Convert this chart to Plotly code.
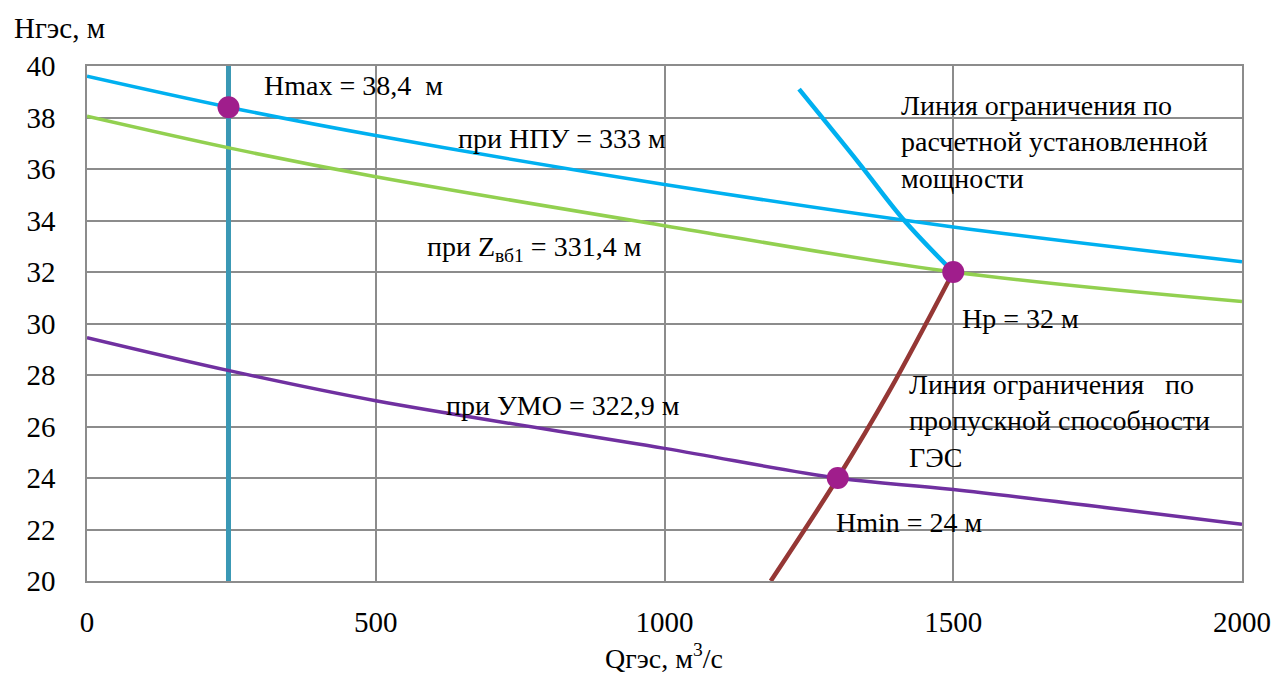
import plotly.graph_objects as go

# Напорные характеристики ГЭС: Q (м3/с) -> H (м)
q_npu = [0, 245, 500, 1000, 1500, 2000]
h_npu = [39.6, 38.4, 37.3, 35.4, 33.75, 32.4]

q_zvb = [0, 250, 500, 1000, 1500, 2000]
h_zvb = [38.05, 36.8, 35.7, 33.8, 32.0, 30.85]

q_umo = [0, 250, 500, 1000, 1300, 1500, 2000]
h_umo = [29.45, 28.15, 27.0, 25.15, 24.0, 23.55, 22.2]

# ограничение по расчетной установленной мощности
q_pow = [1233, 1336, 1416, 1500]
h_pow = [39.1, 36.25, 33.98, 32.0]

# ограничение по пропускной способности
q_cap = [1184, 1300, 1390, 1500]
h_cap = [20.0, 24.0, 27.4, 32.0]

# вертикальная линия Q для Hmax
q_hmax = 245
h_vert = [20, 40]

# характерные точки
pt_q = [245, 1500, 1300]
pt_h = [38.4, 32.0, 24.0]

x_ticks = [0, 500, 1000, 1500, 2000]
y_ticks = list(range(20, 41, 2))

FONT = "Liberation Serif"
GRID = "#8c8c8c"

W, H = 1283, 675
L, R, T, B = 87, 35, 66, 94
PW, PH = W - L - R, H - T - B


def px_x(px):
    return (px - L) / PW


def px_y(py):
    return (H - B - py) / PH


fig = go.Figure()

fig.add_trace(go.Scatter(x=[q_hmax, q_hmax], y=h_vert, mode="lines",
                         line=dict(color="#3a98b5", width=5), hoverinfo="skip"))
fig.add_trace(go.Scatter(x=q_npu, y=h_npu, mode="lines",
                         line=dict(color="#00b0f0", width=3.5, shape="spline")))
fig.add_trace(go.Scatter(x=q_zvb, y=h_zvb, mode="lines",
                         line=dict(color="#92d050", width=3.5, shape="spline")))
fig.add_trace(go.Scatter(x=q_umo, y=h_umo, mode="lines",
                         line=dict(color="#7030a0", width=3.5, shape="spline")))
fig.add_trace(go.Scatter(x=q_pow, y=h_pow, mode="lines",
                         line=dict(color="#00b0f0", width=4.5, shape="spline")))
fig.add_trace(go.Scatter(x=q_cap, y=h_cap, mode="lines",
                         line=dict(color="#953735", width=4.5, shape="spline")))
fig.add_trace(go.Scatter(x=pt_q, y=pt_h, mode="markers",
                         marker=dict(color="#a01e8c", size=22)))

txt = dict(family=FONT, size=28, color="black")
NB = "\u00a0"
labels = [
    (263, 85, f"Hmax = 38,4{NB}{NB}м", "middle"),
    (458, 138, "при НПУ = 333 м", "middle"),
    (427, 248, "при Z<sub>вб1</sub> = 331,4 м", "middle"),
    (446, 405, "при УМО = 322,9 м", "middle"),
    (965, 318, "Hp = 32 м", "middle"),
    (838, 522, "Hmin = 24 м", "middle"),
    (903, 88, "Линия ограничения по<br>расчетной установленной<br>мощности", "top"),
    (911, 367, f"Линия ограничения{NB}{NB}{NB}по<br>пропускной способности<br>ГЭС", "top"),
]
for px, py, t, ya in labels:
    fig.add_annotation(x=px_x(px), y=px_y(py), xref="paper", yref="paper",
                       text=t, showarrow=False, xanchor="left", yanchor=ya,
                       align="left", font=txt)

fig.add_annotation(x=px_x(12), y=px_y(28), xref="paper", yref="paper",
                   text="Нгэс, м", showarrow=False, xanchor="left",
                   yanchor="middle", font=dict(family=FONT, size=29, color="black"))
fig.add_annotation(x=px_x(667), y=px_y(656), xref="paper", yref="paper",
                   text="Qгэс, м<sup>3</sup>/с", showarrow=False, xanchor="center",
                   yanchor="middle", font=dict(family=FONT, size=28, color="black"))

fig.update_layout(
    width=W, height=H,
    margin=dict(l=L, r=R, t=T, b=B),
    paper_bgcolor="white", plot_bgcolor="white",
    showlegend=False,
    font=dict(family=FONT, color="black"),
)
fig.update_xaxes(range=[0, 2000], tickvals=x_ticks, showgrid=True,
                 gridcolor=GRID, gridwidth=1.5, showline=True, linecolor=GRID,
                 linewidth=1.5, mirror=True, zeroline=False,
                 ticks="outside", ticklen=14, tickcolor="rgba(0,0,0,0)",
                 tickfont=dict(family=FONT, size=29, color="black"))
fig.update_yaxes(range=[20, 40], tickvals=y_ticks, showgrid=True,
                 gridcolor=GRID, gridwidth=1.5, showline=True, linecolor=GRID,
                 linewidth=1.5, mirror=True, zeroline=False,
                 ticks="outside", ticklen=24, tickcolor="rgba(0,0,0,0)",
                 tickfont=dict(family=FONT, size=29, color="black"))

fig.write_html("out.html")
